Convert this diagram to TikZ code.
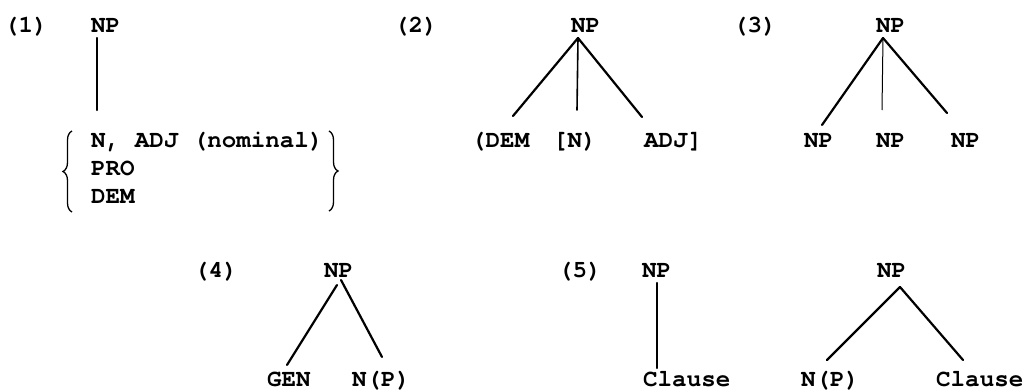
\documentclass[tikz,border=0pt]{standalone}
\usepackage{fontspec}
\setmainfont{texgyrecursor}[Extension=.otf,UprightFont=*-regular,BoldFont=*-bold]
\usetikzlibrary{calc,decorations.pathreplacing}
\begin{document}
\begin{tikzpicture}[x=1pt,y=-1pt,
  lbl/.style={anchor=base west,inner sep=0pt,font=\fontsize{24.2}{28}\selectfont\bfseries},
  edge/.style={line width=2.2pt,line cap=round},
  thinedge/.style={line width=1pt},
  brc/.style={decorate,decoration={brace,amplitude=9pt},line width=1.3pt}]
\useasboundingbox[fill=white] (0,0) rectangle (1026,391);
% (1)
\node[lbl] (n1) at (4,32) {(1)};
\node[lbl] (np1) at (91,32) {NP};
\node[lbl] (t1a) at (91,147) {N, ADJ (nominal)};
\node[lbl] (t1b) at (91,175) {PRO};
\node[lbl] (t1c) at (91,203) {DEM};
\draw[edge] ($(np1.base west)+(6,6)$) -- ($(t1a.base west)+(6,-37)$);
\draw[brc] (72,212) -- (72,131);
\draw[brc] (329,131) -- (329,211);
% (2)
\node[lbl] (n2) at (394,32) {(2)};
\node[lbl] (np2) at (571,32) {NP};
\node[lbl] (dem2) at (471,147) {(DEM};
\node[lbl] (n2b) at (553,147) {[N)};
\node[lbl] (adj2) at (644,147) {ADJ]};
\coordinate (a2) at ($(np2.base west)+(7,6)$);
\draw[edge] (a2) -- ($(dem2.base west)+(42,-31)$);
\draw[edge,line width=1.6pt] (a2) -- ($(n2b.base west)+(24,-37)$);
\draw[edge] (a2) -- ($(adj2.base west)+(-2,-30)$);
% (3)
\node[lbl] (n3) at (733,32) {(3)};
\node[lbl] (np3) at (876,32) {NP};
\node[lbl] (c3a) at (804,147) {NP};
\node[lbl] (c3b) at (876,147) {NP};
\node[lbl] (c3c) at (951,147) {NP};
\coordinate (a3) at ($(np3.base west)+(7,6)$);
\draw[edge] (a3) -- ($(c3a.base west)+(18,-22)$);
\draw[thinedge] (a3) -- ($(c3b.base west)+(6,-37)$);
\draw[edge] (a3) -- ($(c3c.base west)+(-4,-34)$);
% (4)
\node[lbl] (n4) at (194,277) {(4)};
\node[lbl] (np4) at (324,277) {NP};
\node[lbl] (gen4) at (267,386) {GEN};
\node[lbl] (np4b) at (352,386) {N(P)};
\draw[edge] ($(np4.base west)+(13,8)$) -- ($(gen4.base west)+(20,-21)$);
\draw[edge] ($(np4.base west)+(17,3)$) -- ($(np4b.base west)+(30,-29)$);
% (5)
\node[lbl] (n5) at (558,277) {(5)};
\node[lbl] (np5) at (642,277) {NP};
\node[lbl] (cl5) at (643,386) {Clause};
\draw[edge] ($(np5.base west)+(15,6)$) -- ($(cl5.base west)+(14,-18)$);
\node[lbl] (np6) at (877,277) {NP};
\node[lbl] (n6) at (801,386) {N(P)};
\node[lbl] (cl6) at (936,386) {Clause};
\coordinate (a6) at ($(np6.base west)+(23,10)$);
\draw[edge] (a6) -- ($(n6.base west)+(26,-26)$);
\draw[edge] (a6) -- ($(cl6.base west)+(27,-26)$);
\end{tikzpicture}
\end{document}
